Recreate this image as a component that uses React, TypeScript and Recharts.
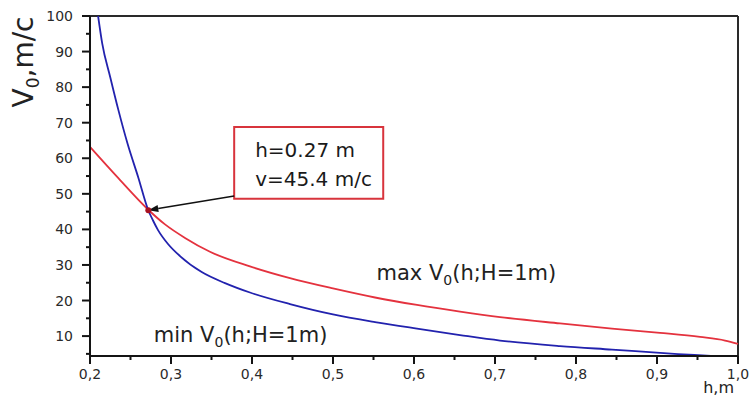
import React from "react";
import {
  LineChart,
  Line,
  XAxis,
  YAxis,
  ReferenceLine,
  ReferenceArea,
  ReferenceDot,
} from "recharts";

// min V0(h; H=1m) – blue curve
const minH = [0.21, 0.215, 0.225, 0.235, 0.2465, 0.2596, 0.2716, 0.2778, 0.284, 0.2963, 0.3111, 0.3379, 0.3667, 0.3975, 0.4469, 0.5, 0.5519, 0.6037, 0.6568, 0.7062, 0.7802, 0.8444, 0.9259, 0.9716, 1.0];
const minV = [100, 92.4, 82.8, 73.6, 64.0, 54.6, 45.6, 42.5, 39.8, 35.9, 32.5, 28.0, 24.9, 22.25, 19.0, 16.1, 13.95, 12.1, 10.3, 8.75, 7.2, 6.2, 4.95, 4.35, 3.9];

// max V0(h; H=1m) – red curve
const maxH = [0.2, 0.233, 0.2716, 0.2926, 0.3173, 0.3481, 0.3975, 0.4469, 0.5, 0.5519, 0.6037, 0.6568, 0.7062, 0.7802, 0.8444, 0.9037, 0.9531, 0.984, 1.0];
const maxV = [63.2, 54.9, 45.6, 41.4, 37.6, 33.7, 29.6, 26.3, 23.4, 20.85, 18.75, 16.9, 15.35, 13.55, 12.1, 10.9, 9.75, 8.75, 7.8];

const xTicks = [0.2, 0.25, 0.3, 0.35, 0.4, 0.45, 0.5, 0.55, 0.6, 0.65, 0.7, 0.75, 0.8, 0.85, 0.9, 0.95, 1.0];
const yTicks = [5, 10, 15, 20, 25, 30, 35, 40, 45, 50, 55, 60, 65, 70, 75, 80, 85, 90, 95, 100];

// crossing point and annotation text
const crossing = { h: 0.272, v: 45.4 };
const noteLines = ["h=0.27 m", "v=45.4 m/c"];
const noteBox = { h1: 0.378, h2: 0.562, v1: 48.6, v2: 68.8 };
const minLabelAt = { h: 0.28, v: 8.3 };
const maxLabelAt = { h: 0.555, v: 25.8 };

const BLUE = "#2222ae";
const RED = "#e4323e";
const AXIS = "#141414";
const FONT = "'DejaVu Sans', sans-serif";

const minData = minH.map((h, i) => ({ h, v: minV[i] }));
const maxData = maxH.map((h, i) => ({ h, v: maxV[i] }));

const isMajorX = (v: number) => Math.round(v * 100) % 10 === 0;

function XTick({ x, y, payload }: any) {
  const major = isMajorX(payload.value);
  return (
    <g>
      <line x1={x} x2={x} y1={y} y2={y + (major ? 8 : 4)} stroke={AXIS} strokeWidth={2} />
      {major && (
        <text x={x} y={y + 23} textAnchor="middle" fontFamily={FONT} fontSize={14} fill="#2a2a2a">
          {payload.value.toFixed(1).replace(".", ",")}
        </text>
      )}
    </g>
  );
}

function YTick({ x, y, payload }: any) {
  const major = payload.value % 10 === 0;
  return (
    <g>
      <line x1={x - (major ? 8 : 4)} x2={x} y1={y} y2={y} stroke={AXIS} strokeWidth={2} />
      {major && (
        <text x={x - 17} y={y + 5} textAnchor="end" fontFamily={FONT} fontSize={14} fill="#2a2a2a">
          {payload.value}
        </text>
      )}
    </g>
  );
}

function YTitle({ viewBox }: any) {
  const cx = viewBox.x + 33;
  const cy = viewBox.y + 46;
  return (
    <text
      x={cx}
      y={cy}
      transform={`rotate(-90, ${cx}, ${cy})`}
      textAnchor="middle"
      fontFamily={FONT}
      fontSize={28}
      fill="#222"
    >
      V<tspan fontSize={17} dy={6}>0</tspan>
      <tspan dy={-6}>,m/c</tspan>
    </text>
  );
}

function XTitle({ viewBox }: any) {
  return (
    <text
      x={viewBox.x + viewBox.width - 4}
      y={viewBox.y + 37}
      textAnchor="end"
      fontFamily={FONT}
      fontSize={16}
      fill="#222"
    >
      h,m
    </text>
  );
}

function NoteText({ viewBox }: any) {
  return (
    <g fontFamily={FONT} fontSize={20} fill="#1a1a1a">
      {noteLines.map((t, i) => (
        <text key={t} x={viewBox.x + 21} y={viewBox.y + 30 + i * 29}>
          {t}
        </text>
      ))}
    </g>
  );
}

function curveLabel(prefix: string) {
  return ({ viewBox }: any) => (
    <text x={viewBox.x} y={viewBox.y + 1} fontFamily={FONT} fontSize={21} fill="#222">
      {prefix} V<tspan fontSize={14} dy={5}>0</tspan>
      <tspan dy={-5}>(h;H=1m)</tspan>
    </text>
  );
}

function Arrow(props: any) {
  const { x1, y1, x2, y2 } = props;
  const ang = Math.atan2(y2 - y1, x2 - x1);
  const len = 10;
  const w = 3.5;
  const bx = x2 - len * Math.cos(ang);
  const by = y2 - len * Math.sin(ang);
  const px = -Math.sin(ang) * w;
  const py = Math.cos(ang) * w;
  return (
    <g>
      <line x1={x1} y1={y1} x2={bx} y2={by} stroke="#111" strokeWidth={1.5} />
      <polygon points={`${x2},${y2} ${bx + px},${by + py} ${bx - px},${by - py}`} fill="#111" />
    </g>
  );
}

export default function App() {
  return (
    <div style={{ position: "absolute", left: 0, top: 0, width: 751, height: 396, background: "#fff" }}>
      <LineChart width={751} height={396} margin={{ top: 16, right: 13, left: 0, bottom: 0 }}>
        <XAxis
          type="number"
          dataKey="h"
          domain={[0.2, 1.0]}
          ticks={xTicks}
          interval={0}
          tickSize={0}
          tickMargin={0}
          tick={<XTick />}
          axisLine={{ stroke: AXIS, strokeWidth: 2 }}
          height={40}
          label={{ content: <XTitle /> }}
        />
        <YAxis
          type="number"
          domain={[4.4, 100]}
          allowDataOverflow
          ticks={yTicks}
          interval={0}
          tickSize={0}
          tickMargin={0}
          tick={<YTick />}
          axisLine={{ stroke: AXIS, strokeWidth: 2 }}
          width={90}
          label={{ content: <YTitle /> }}
        />
        <ReferenceLine y={100} stroke="#2a2a2a" strokeWidth={2} />
        <ReferenceLine x={1.0} stroke="#2a2a2a" strokeWidth={2} />
        <Line
          data={maxData}
          dataKey="v"
          type="monotone"
          stroke={RED}
          strokeWidth={1.8}
          dot={false}
          isAnimationActive={false}
        />
        <Line
          data={minData}
          dataKey="v"
          type="monotone"
          stroke={BLUE}
          strokeWidth={1.8}
          dot={false}
          isAnimationActive={false}
        />
        <ReferenceArea
          x1={noteBox.h1}
          x2={noteBox.h2}
          y1={noteBox.v1}
          y2={noteBox.v2}
          fill="#fff"
          fillOpacity={1}
          stroke="#d8343c"
          strokeWidth={2}
          label={<NoteText />}
        />
        <ReferenceLine
          segment={[
            { x: noteBox.h1, y: 49.4 },
            { x: crossing.h, y: crossing.v },
          ]}
          shape={<Arrow />}
        />
        <ReferenceDot x={crossing.h} y={crossing.v} r={3} fill="#a81020" stroke="none" />
        <ReferenceDot
          x={minLabelAt.h}
          y={minLabelAt.v}
          r={1}
          fill="none"
          stroke="none"
          label={{ content: curveLabel("min") }}
        />
        <ReferenceDot
          x={maxLabelAt.h}
          y={maxLabelAt.v}
          r={1}
          fill="none"
          stroke="none"
          label={{ content: curveLabel("max") }}
        />
      </LineChart>
    </div>
  );
}
